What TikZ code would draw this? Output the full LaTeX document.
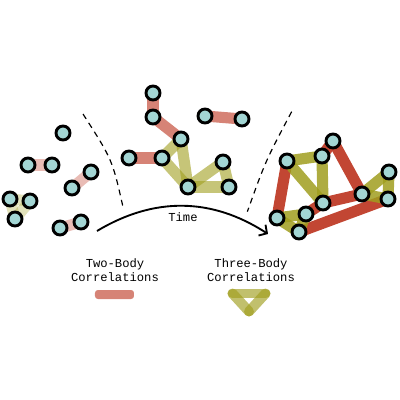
\documentclass[tikz,border=0pt]{standalone}
\usepackage{fontspec}
\setmonofont{Liberation Mono}
\usepackage{xcolor}
\definecolor{bondred}{RGB}{192,64,44}
\definecolor{bondolive}{RGB}{160,158,30}
\definecolor{atomcyan}{RGB}{163,214,212}
\usetikzlibrary{arrows.meta}
\pgfdeclarelayer{bg}
\pgfsetlayers{bg,main}

\begin{document}
\begin{tikzpicture}[>={Straight Barb[length=5pt,width=11pt]},
    atom/.style={circle,draw=black,line width=2.5pt,fill=atomcyan,
                 minimum size=0.42cm,inner sep=0pt},
    twobody/.style={bondred,line width=9.5pt,opacity=#1},
    threebody/.style={bondolive,line width=9.5pt,opacity=#1},
    cone/.style={dash pattern=on 5pt off 4pt,line width=1pt},
    lbl/.style={font=\ttfamily\fontsize{10.4}{12}\selectfont,align=center}]
  \useasboundingbox (-6,-6) rectangle (6,6);
  %% Atoms: early times
  \foreach \n/\x/\y in {l1/-4.11/2.01, l2/-5.16/1.05, l3/-4.44/1.05,
      l4/-3.84/0.36, l5/-3.27/0.84, l6/-5.70/0.03, l7/-5.10/-0.03,
      l8/-5.55/-0.57, l9/-4.20/-0.84, l10/-3.57/-0.66}
    \node[atom] (\n) at (\x,\y) {};
  %% Atoms: intermediate times
  \foreach \n/\x/\y in {m1/-1.41/3.21, m2/-1.41/2.49, m3/-0.57/1.83,
      m4/-2.13/1.26, m5/-1.14/1.26, m6/0.69/1.14, m7/-0.36/0.39,
      m8/0.87/0.39, m9/0.15/2.52, m10/1.26/2.43}
    \node[atom] (\n) at (\x,\y) {};
  %% Atoms: late times
  \foreach \n/\x/\y in {r1/3.99/1.77, r2/3.66/1.32, r3/2.61/1.17,
      r4/5.67/0.84, r5/4.86/0.18, r6/3.69/-0.09, r7/5.64/0.03,
      r8/3.18/-0.42, r9/2.31/-0.54, r10/2.97/-0.96}
    \node[atom] (\n) at (\x,\y) {};
  %% Correlations behind the atoms
  \begin{pgfonlayer}{bg}
    \foreach \a/\b in {l2/l3,l4/l5,l9/l10}
      \draw[twobody=0.35] (\a.center) -- (\b.center);
    \foreach \a/\b in {l6/l7,l7/l8,l8/l6}
      \draw[threebody=0.3] (\a.center) -- (\b.center);
    \foreach \a/\b in {m1/m2,m2/m3,m4/m5,m9/m10}
      \draw[twobody=0.65] (\a.center) -- (\b.center);
    \foreach \a/\b in {m3/m5,m5/m7,m7/m3,m7/m6,m6/m8,m8/m7}
      \draw[threebody=0.6] (\a.center) -- (\b.center);
    \foreach \a/\b in {r3/r9,r2/r1,r1/r5,r8/r6,r6/r5,r10/r7}
      \draw[twobody=0.97] (\a.center) -- (\b.center);
    \foreach \a/\b in {r3/r2,r2/r6,r6/r3,r4/r5,r5/r7,r7/r4,r9/r8,r8/r10,r10/r9}
      \draw[threebody=0.85] (\a.center) -- (\b.center);
  \end{pgfonlayer}
  %% Dashed boundaries
  \draw[cone] (-3.51,2.58) .. controls (-2.63,1.21) .. (-2.31,-0.21);
  \draw[cone] (2.75,2.65) .. controls (1.97,1.18) .. (1.42,-0.35);
  %% Time arrow
  \coordinate (tstart) at (-3.09,-0.93);
  \coordinate (tend) at (2.04,-1.02);
  \draw[->,line width=1.6pt] (tstart) to[bend left=32] (tend);
  \node[lbl] (timelbl) at (-0.51,-0.51) {Time};
  %% Legend
  \node[lbl] (twolbl) at (-2.55,-2.10) {Two-Body\\Correlations};
  \node[lbl] (threelbl) at (1.53,-2.10) {Three-Body\\Correlations};
  \fill[bondred,opacity=0.65,rounded corners=2.5pt]
    (-3.15,-2.97) rectangle (-1.98,-2.70);
  \coordinate (t1) at (0.975,-2.805);
  \coordinate (t2) at (1.965,-2.805);
  \coordinate (t3) at (1.47,-3.345);
  \foreach \a/\b in {t1/t2,t2/t3,t3/t1}
    \draw[threebody=0.65,line width=8.5pt,line cap=round] (\a) -- (\b);
\end{tikzpicture}
\end{document}
